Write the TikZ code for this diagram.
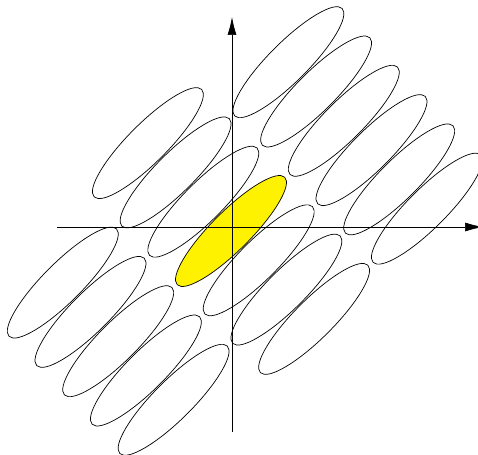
\documentclass[tikz,border=0pt]{standalone}
\usetikzlibrary{shapes.geometric, arrows.meta}
\begin{document}
\begin{tikzpicture}[x=1pt, y=1pt,
    every node/.style={ellipse, draw, rotate=45, minimum width=152pt, minimum height=39pt, inner sep=0pt, line width=0.7pt},
    axis/.style={line width=0.7pt, -{Latex[length=18pt, width=9pt]}}]
    \useasboundingbox (-232,-227) rectangle (246,227);
    % upper row
    \node (a1) at (56.4,164.8) {};
    \node (a2) at (84.1,135.5) {};
    \node (a3) at (111.8,106.2) {};
    \node (a4) at (139.5,76.9) {};
    \node (a5) at (167.2,47.6) {};
    \node (a6) at (194.9,18.3) {};
    % middle row
    \node (b1) at (-84.1,83.9) {};
    \node (b2) at (-56.4,54.6) {};
    \node (b3) at (-28.7,25.3) {};
    \node[fill=yellow] (Y) at (-1,-4) {};
    \node (b5) at (26.7,-33.3) {};
    \node (b6) at (54.4,-62.6) {};
    \node (b7) at (82.1,-91.9) {};
    % lower row
    \node (c1) at (-169.2,-55.6) {};
    \node (c2) at (-141.5,-84.9) {};
    \node (c3) at (-113.8,-114.2) {};
    \node (c4) at (-86.1,-143.5) {};
    \node (c5) at (-58.4,-172.8) {};

    \coordinate (xl) at (-175,0);
    \coordinate (xr) at (251,0);
    \coordinate (yb) at (0,-205);
    \coordinate (yt) at (0,210);
    \draw[axis] (xl) -- (xr);
    \draw[axis] (yb) -- (yt);
\end{tikzpicture}
\end{document}
